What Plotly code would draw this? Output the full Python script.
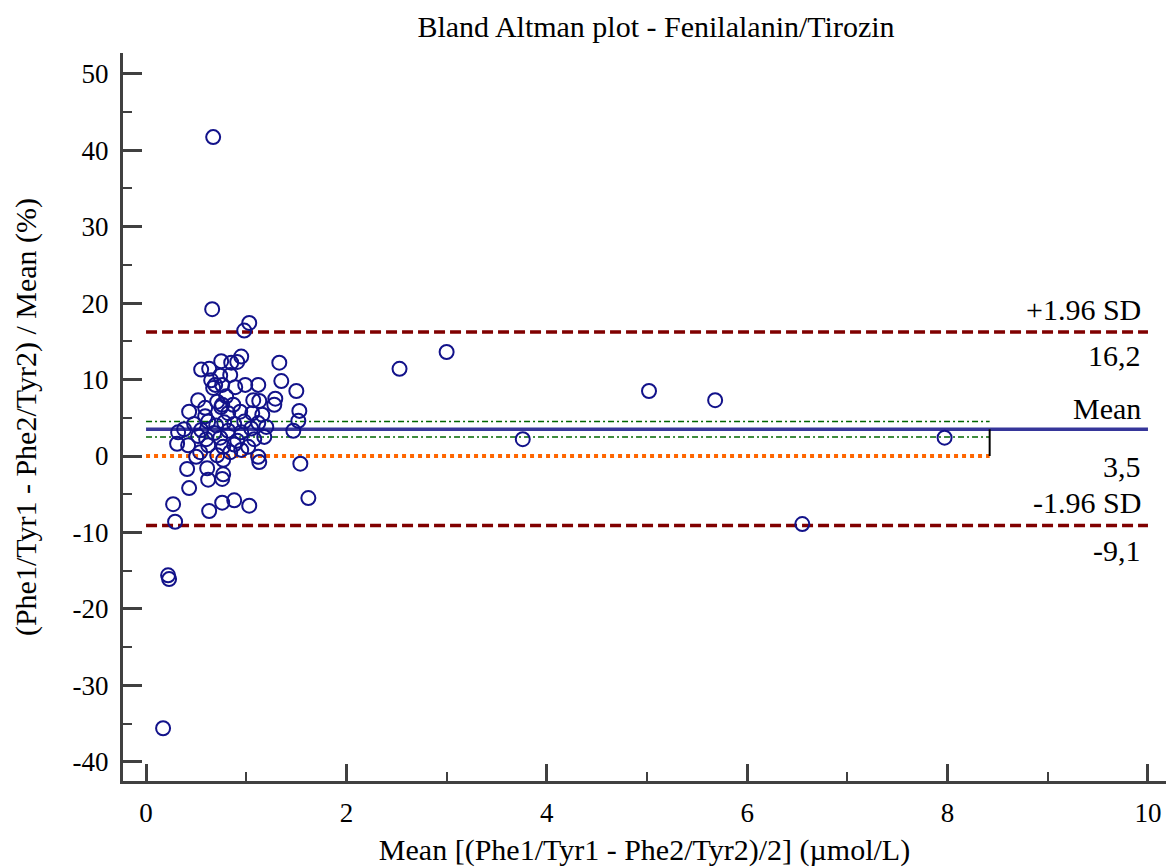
import plotly.graph_objects as go

# ---- data ----
mean_x = [
    0.67, 0.66, 1.03, 0.98, 0.95, 1.33, 1.35, 1.50, 1.53, 1.52, 1.47, 1.54, 1.62, 1.03, 0.88,
    0.76, 0.63, 0.27, 0.29, 0.22, 0.23, 0.17, 2.53, 3.00, 3.76, 5.02, 5.68, 6.55, 7.97,
    0.75, 0.85, 0.91, 0.55, 0.63, 0.74, 0.84, 0.65, 0.69, 0.76, 0.89, 0.99, 1.12, 0.67,
    0.52, 0.80, 0.71, 0.75, 0.87, 1.07, 1.13, 1.29, 1.28, 0.43, 0.59, 0.82, 0.94, 1.06,
    1.16, 0.59, 0.76,
    0.48, 0.62, 0.70, 0.78, 0.88, 0.98, 1.12, 1.20, 0.38, 0.55, 0.68, 0.82, 0.95, 1.05,
    0.32, 0.52, 0.91, 1.18, 0.74, 1.08, 0.60,
    0.31, 0.42, 0.62, 0.77, 1.02, 0.50, 0.71, 0.84, 0.54, 0.77, 1.12, 1.13, 0.41, 0.61,
    0.77, 0.76, 0.62, 0.43, 0.95, 0.88,
]
diff_pct = [
    41.7, 19.2, 17.4, 16.4, 13.0, 12.2, 9.8, 8.5, 5.9, 4.6, 3.3, -1.0, -5.5, -6.5, -5.8,
    -6.1, -7.2, -6.3, -8.6, -15.6, -16.1, -35.6, 11.4, 13.6, 2.2, 8.5, 7.3, -8.9, 2.4,
    12.4, 12.2, 12.3, 11.3, 11.4, 10.5, 10.6, 9.9, 9.3, 9.3, 9.0, 9.3, 9.3, 8.9,
    7.3, 7.8, 7.1, 6.4, 6.7, 7.3, 7.2, 7.5, 6.7, 5.8, 5.2, 5.6, 5.8, 5.6,
    5.4, 6.3, 6.7,
    4.2, 4.5, 4.0, 4.4, 4.2, 4.5, 4.3, 3.8, 3.5, 3.4, 3.0, 3.3, 3.1, 3.6,
    3.1, 2.6, 2.0, 2.5, 2.4, 2.2, 2.2,
    1.6, 1.4, 1.4, 1.2, 1.2, -0.1, 0.1, 0.5, 0.5, -0.5, -0.1, -0.8, -1.7, -1.6,
    -2.4, -3.0, -3.1, -4.2, 0.8, 1.5,
]

mean_diff = 3.5
upper_loa = 16.2
lower_loa = -9.1
ci_low = 2.5
ci_high = 4.5
line_x_start = 0.0
line_x_end = 10.0
ci_x_end = 8.42

labels_upper = ["+1.96 SD", "16,2"]
labels_mean = ["Mean", "3,5"]
labels_lower = ["-1.96 SD", "-9,1"]

x_tickvals = [0, 2, 4, 6, 8, 10]
x_ticktext = ["0", "2", "4", "6", "8", "10"]
y_tickvals = [-40, -30, -20, -10, 0, 10, 20, 30, 40, 50]
y_ticktext = ["-40", "-30", "-20", "-10", "0", "10", "20", "30", "40", "50"]

FONT = "Liberation Serif"
AX = "#404040"

fig = go.Figure()

def hline(y, color, width, dash, x0=line_x_start, x1=line_x_end):
    fig.add_trace(go.Scatter(x=[x0, x1], y=[y, y], mode="lines",
                             line=dict(color=color, width=width, dash=dash),
                             hoverinfo="skip", showlegend=False))

hline(upper_loa, "#800000", 3.5, "11px,5px")
hline(lower_loa, "#800000", 3.5, "11px,5px")
hline(0, "#FF6600", 4, "4px,4px", x1=ci_x_end)
hline(ci_high, "#006600", 1.5, "6px,3px,2px,3px", x1=ci_x_end)
hline(ci_low, "#006600", 1.5, "6px,3px,2px,3px", x1=ci_x_end)
hline(mean_diff, "#36369a", 3.5, "solid")
fig.add_trace(go.Scatter(x=[ci_x_end, ci_x_end], y=[0, mean_diff], mode="lines",
                         line=dict(color="black", width=2),
                         hoverinfo="skip", showlegend=False))

fig.add_trace(go.Scatter(x=mean_x, y=diff_pct, mode="markers",
                         marker=dict(symbol="circle-open", size=14, color="#12128a",
                                     line=dict(width=2, color="#12128a")),
                         showlegend=False))

ann_font = dict(family=FONT, size=30, color="black")
shifts = {upper_loa: (4, -5), mean_diff: (2, -19), lower_loa: (5, -6)}
for yv, labs in [(upper_loa, labels_upper), (mean_diff, labels_mean), (lower_loa, labels_lower)]:
    up, down = shifts[yv]
    fig.add_annotation(x=9.95, y=yv, text=labs[0], showarrow=False, xanchor="right",
                       yanchor="bottom", yshift=up, font=ann_font)
    fig.add_annotation(x=9.95, y=yv, text=labs[1], showarrow=False, xanchor="right",
                       yanchor="top", yshift=down, font=ann_font)

fig.update_layout(
    width=1166, height=867,
    paper_bgcolor="white", plot_bgcolor="white",
    margin=dict(l=123, r=0, t=53, b=86, autoexpand=False),
    font=dict(family=FONT, size=27, color="black"),
    title=dict(text="Bland Altman plot - Fenilalanin/Tirozin", x=0.5626, xref="container",
               xanchor="center", y=0.969, yref="container", yanchor="middle",
               font=dict(family=FONT, size=30, color="black")),
    showlegend=False,
)
fig.update_xaxes(
    range=[-0.23, 10.18], showgrid=False, zeroline=False,
    showline=True, linecolor=AX, linewidth=3, mirror=False,
    ticks="inside", ticklen=17, tickwidth=2.5, tickcolor=AX,
    tickvals=x_tickvals, ticktext=x_ticktext,
    minor=dict(ticks="inside", ticklen=9, tickwidth=2, tickcolor=AX, dtick=1, showgrid=False),
    ticklabelstandoff=6,
    tickfont=dict(family=FONT, size=27, color="black"),
    title=dict(text="Mean [(Phe1/Tyr1 - Phe2/Tyr2)/2] (µmol/L)", standoff=12,
               font=dict(family=FONT, size=30, color="black")),
)
fig.update_yaxes(
    range=[-42.5, 52.7], showgrid=False, zeroline=False,
    showline=True, linecolor=AX, linewidth=3, mirror=False,
    ticks="inside", ticklen=19, tickwidth=3, tickcolor=AX,
    tickvals=y_tickvals, ticktext=y_ticktext,
    minor=dict(ticks="inside", ticklen=9, tickwidth=2, tickcolor=AX, dtick=5, showgrid=False),
    ticklabelstandoff=6,
    tickfont=dict(family=FONT, size=27, color="black"),
    title=dict(text="(Phe1/Tyr1 - Phe2/Tyr2) / Mean (%)", standoff=28,
               font=dict(family=FONT, size=30, color="black")),
)

fig.write_html("out.html", config={"displayModeBar": False},
               post_script="document.body.style.margin='0';document.body.style.overflow='hidden';")
